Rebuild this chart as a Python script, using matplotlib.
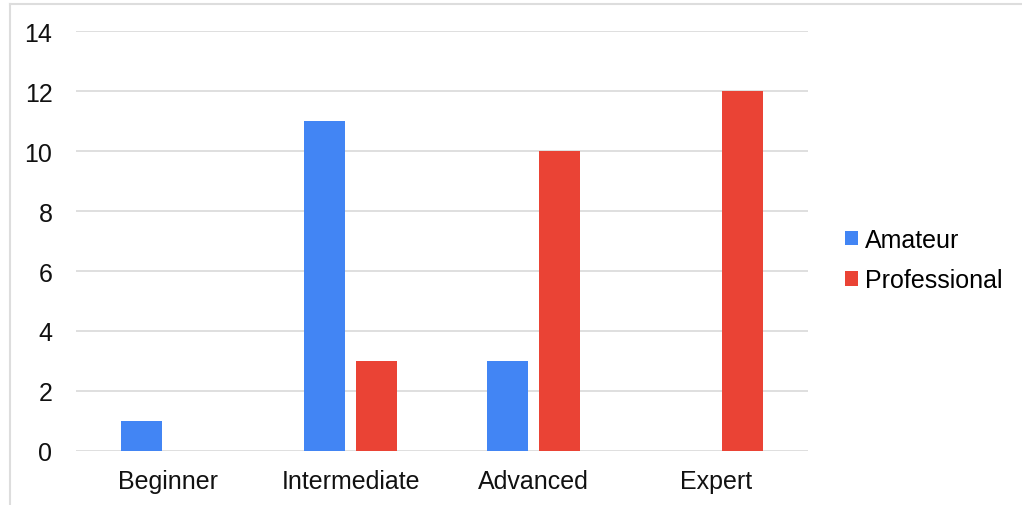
import matplotlib.pyplot as plt
from matplotlib.lines import Line2D
import numpy as np

plt.rcParams['font.family'] = ['Liberation Sans', 'DejaVu Sans']

levels = ["Beginner", "Intermediate", "Advanced", "Expert"]
amateur = [1, 11, 3, 0]
professional = [0, 3, 10, 12]

blue = '#4285F4'
red = '#EA4335'

fig = plt.figure(figsize=(10.22, 5.06), dpi=100)
ax = fig.add_axes([76 / 1022, 1 - 452 / 506, 732 / 1022, 420 / 506])

x = np.arange(len(levels))
w = 0.224
off = 0.142
ax.bar(x - off, amateur, w, color=blue, label='Amateur', zorder=3)
ax.bar(x + off, professional, w, color=red, label='Professional', zorder=3)

ax.set_xlim(-0.5, len(levels) - 0.5)
ax.set_ylim(0, 14)
ax.set_yticks(range(0, 15, 2))
ax.set_xticks(x)
ax.set_xticklabels(levels)
ax.grid(axis='y', color='#d9d9d9', linewidth=1.2, zorder=0)
for s in ax.spines.values():
    s.set_visible(False)
ax.tick_params(axis='both', length=0, labelsize=18, colors='#111111')
ax.tick_params(axis='y', pad=17)
ax.tick_params(axis='x', pad=13)

ax.legend(loc='center left', bbox_to_anchor=(832 / 1022, 1 - 261 / 506), bbox_transform=fig.transFigure,
          frameon=False, fontsize=18, handlelength=0.52, handleheight=0.52,
          handletextpad=0.3, labelspacing=0.65, borderpad=0)

# light frame along the top and left edge
fig.add_artist(Line2D([10 / 1022, 10 / 1022], [0, 1 - 5 / 506], color='#dddddd', lw=1.5,
                      transform=fig.transFigure))
fig.add_artist(Line2D([10 / 1022, 1], [1 - 5 / 506, 1 - 5 / 506], color='#dddddd', lw=1.5,
                      transform=fig.transFigure))

fig.savefig('out.png', dpi=100)
